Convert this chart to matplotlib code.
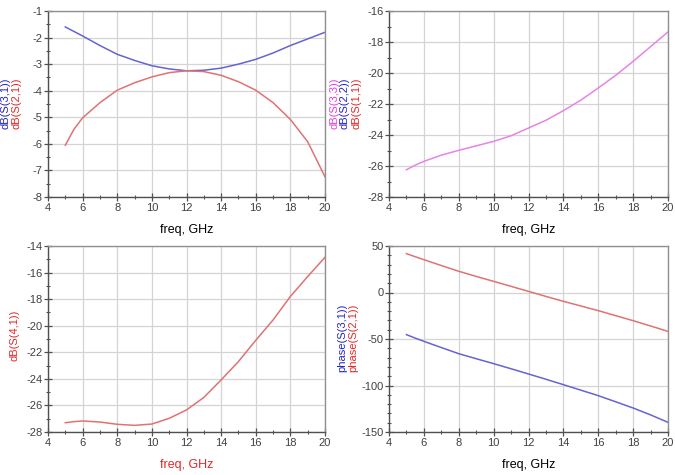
import matplotlib
matplotlib.use("Agg")
import matplotlib.pyplot as plt
from matplotlib.ticker import MultipleLocator

plt.rcParams['font.family'] = ['Liberation Sans', 'DejaVu Sans']
plt.rcParams['axes.unicode_minus'] = False

# ---- data ----
freq = [5, 5.5, 6, 7, 8, 9, 10, 11, 12, 13, 14, 15, 16, 17, 18, 19, 20]

s31_db = [-1.60, -1.77, -1.94, -2.30, -2.63, -2.86, -3.06, -3.18, -3.25, -3.23,
          -3.15, -3.00, -2.82, -2.58, -2.30, -2.05, -1.80]
s21_db = [-6.05, -5.45, -5.02, -4.45, -3.98, -3.70, -3.48, -3.32, -3.25, -3.28,
          -3.42, -3.66, -3.98, -4.45, -5.08, -5.92, -7.24]

s33_db = [-26.24, -25.95, -25.70, -25.30, -24.99, -24.70, -24.41, -24.05, -23.55,
          -23.05, -22.43, -21.75, -20.97, -20.15, -19.25, -18.30, -17.35]

s41_db = [-27.30, -27.22, -27.17, -27.25, -27.42, -27.50, -27.40, -26.97, -26.34,
          -25.40, -24.08, -22.70, -21.10, -19.57, -17.80, -16.30, -14.85]

s21_phase = [41.8, 38.5, 35.3, 29.0, 22.8, 17.3, 12.0, 6.6, 1.2, -4.2, -9.5,
             -14.5, -19.5, -24.9, -30.3, -36.0, -41.8]
s31_phase = [-45.3, -49.0, -52.5, -59.2, -65.8, -71.2, -76.5, -82.0, -87.6, -93.3,
             -99.1, -105.0, -110.9, -117.5, -124.2, -131.6, -139.6]

# ---- style ----
BLUE_LINE = '#6464d2'
RED_LINE = '#e07272'
MAG_LINE = '#e684e6'
BLUE_TXT = '#2323c8'
RED_TXT = '#e02828'
MAG_TXT = '#e040e0'

fig = plt.figure(figsize=(6.75, 4.75), dpi=100)
W, H = 675.0, 475.0


def make_ax(l, r, t, b):
    return fig.add_axes([l / W, 1 - b / H, (r - l) / W, (b - t) / H])


def style(ax, ylim, ymaj, ymin, xlabel_color='black'):
    ax.set_xlim(4, 20)
    ax.set_ylim(*ylim)
    ax.xaxis.set_major_locator(MultipleLocator(2))
    ax.xaxis.set_minor_locator(MultipleLocator(1))
    ax.yaxis.set_major_locator(MultipleLocator(ymaj))
    ax.yaxis.set_minor_locator(MultipleLocator(ymin))
    ax.grid(True, which='major', color='#d4d4d4', linewidth=0.9)
    ax.set_axisbelow(True)
    for s in ['left', 'bottom']:
        ax.spines[s].set_color('#505050')
        ax.spines[s].set_linewidth(1.0)
    for s in ['top', 'right']:
        ax.spines[s].set_color('#909090')
        ax.spines[s].set_linewidth(1.0)
    ax.tick_params(which='major', direction='inout', length=6, width=0.9,
                   color='#505050', labelsize=8, labelcolor='#404040', pad=1)
    ax.tick_params(which='minor', direction='inout', length=3.5, width=0.8,
                   color='#505050')
    ax.set_xlabel('freq, GHz', fontsize=9, color=xlabel_color, labelpad=8)


# top-left
ax1 = make_ax(48, 325, 11, 197)
ax1.plot(freq, s31_db, color=BLUE_LINE, lw=1.1)
ax1.plot(freq, s21_db, color=RED_LINE, lw=1.1)
style(ax1, (-8, -1), 1, 0.5)

# top-right
ax2 = make_ax(389, 668, 11, 197)
ax2.plot(freq, s33_db, color=MAG_LINE, lw=1.1)
style(ax2, (-28, -16), 2, 1)

# bottom-left
ax3 = make_ax(48, 325, 246, 432)
ax3.plot(freq, s41_db, color=RED_LINE, lw=1.1)
style(ax3, (-28, -14), 2, 1, xlabel_color=RED_TXT)

# bottom-right
ax4 = make_ax(389, 668, 246, 432)
ax4.plot(freq, s21_phase, color=RED_LINE, lw=1.1)
ax4.plot(freq, s31_phase, color=BLUE_LINE, lw=1.1)
style(ax4, (-150, 50), 50, 10)

# rotated y labels
def ylab(x, y, s, c):
    fig.text(x / W, 1 - y / H, s, rotation=90, color=c, fontsize=8,
             ha='center', va='center')

ylab(6, 103, 'dB(S(3,1))', BLUE_TXT)
ylab(17, 103, 'dB(S(2,1))', RED_TXT)

ylab(334, 103, 'dB(S(3,3))', MAG_TXT)
ylab(345, 103, 'dB(S(2,2))', BLUE_TXT)
ylab(356, 103, 'dB(S(1,1))', RED_TXT)

ylab(14, 335, 'dB(S(4,1))', RED_TXT)

ylab(342, 338, 'phase(S(3,1))', BLUE_TXT)
ylab(353, 338, 'phase(S(2,1))', RED_TXT)

fig.savefig('out.png', dpi=100, facecolor='white')
